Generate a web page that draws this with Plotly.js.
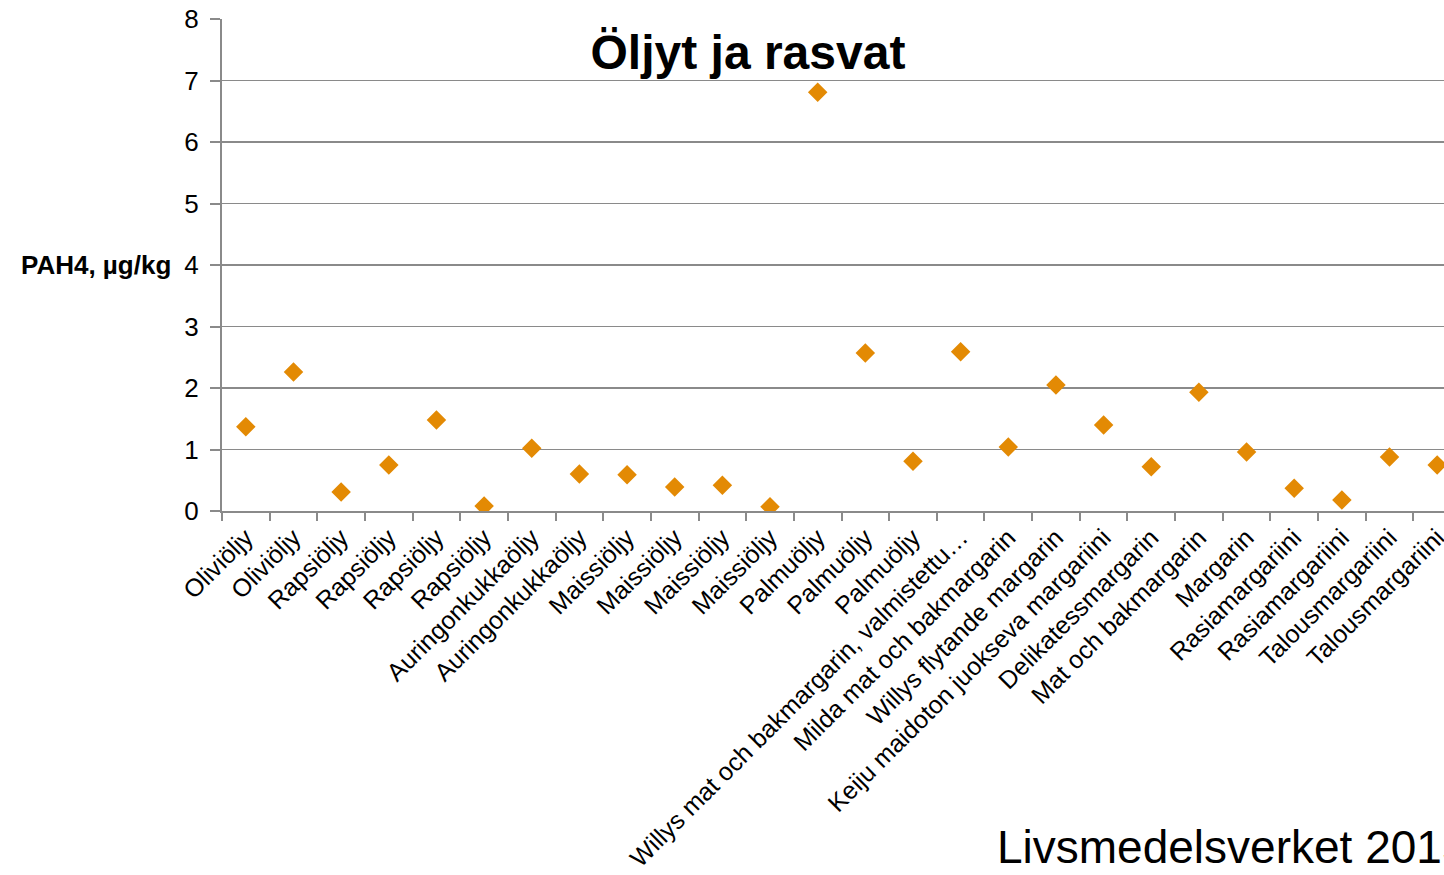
<!DOCTYPE html>
<html>
<head>
<meta charset="utf-8">
<script src="https://cdn.plot.ly/plotly-3.0.1.min.js"></script>
<style>
  html, body { margin: 0; padding: 0; overflow: hidden; background: white; }
</style>
</head>
<body>
<div id="plot"></div>
<script>
// products (x categories) and PAH4 content, µg/kg
const products = [
  "Oliviöljy", "Oliviöljy", "Rapsiöljy", "Rapsiöljy", "Rapsiöljy", "Rapsiöljy",
  "Auringonkukkaöljy", "Auringonkukkaöljy",
  "Maissiöljy", "Maissiöljy", "Maissiöljy", "Maissiöljy",
  "Palmuöljy", "Palmuöljy", "Palmuöljy",
  "Willys mat och bakmargarin, valmistettu…",
  "Milda mat och bakmargarin",
  "Willys flytande margarin",
  "Keiju maidoton juokseva margariini",
  "Delikatessmargarin",
  "Mat och bakmargarin",
  "Margarin",
  "Rasiamargariini", "Rasiamargariini",
  "Talousmargariini", "Talousmargariini"
];
const pah4 = [
  1.37, 2.26, 0.31, 0.75, 1.48, 0.08,
  1.02, 0.60,
  0.59, 0.39, 0.42, 0.07,
  6.81, 2.57, 0.81,
  2.59, 1.04, 2.05, 1.40, 0.72, 1.93, 0.96,
  0.37, 0.18, 0.88, 0.75
];
const yTicks = [0, 1, 2, 3, 4, 5, 6, 7, 8];

const grey = "#8a8a8a";
const font = "Liberation Sans, Arial, sans-serif";

// duplicate names, so index the categories and put the names on as tick text
const keys = products.map((p, i) => String(i));

const trace = {
  type: "scatter",
  mode: "markers",
  x: keys,
  y: pah4,
  marker: { symbol: "diamond", size: 15, color: "#E38A04" },
  hoverinfo: "y"
};

const layout = {
  width: 1470,
  height: 875,
  margin: { l: 222, r: 9, t: 19, b: 364 },
  paper_bgcolor: "white",
  plot_bgcolor: "white",
  showlegend: false,
  font: { family: font, color: "#000" },
  title: {
    text: "<b>Öljyt ja rasvat</b>",
    font: { family: font, size: 48, color: "#000" },
    xref: "paper", x: 0.4245, xanchor: "center",
    yref: "container", y: 1 - 52 / 875, yanchor: "middle"
  },
  xaxis: {
    type: "category",
    range: [-0.5, products.length - 0.5],
    tickmode: "array",
    tickvals: keys,
    ticktext: products,
    tickangle: -45,
    tickson: "boundaries",
    ticks: "outside",
    ticklen: 8,
    tickwidth: 2,
    tickcolor: grey,
    showline: true,
    linecolor: grey,
    linewidth: 2,
    showgrid: false,
    zeroline: false,
    automargin: false,
    tickfont: { family: font, size: 25, color: "#000" }
  },
  yaxis: {
    range: [0, 8],
    tickmode: "array",
    tickvals: yTicks,
    ticks: "outside",
    ticklen: 10,
    tickwidth: 2,
    tickcolor: grey,
    ticklabelstandoff: 6,
    showline: true,
    linecolor: grey,
    linewidth: 2,
    showgrid: true,
    gridcolor: grey,
    gridwidth: 1.6,
    zeroline: false,
    automargin: false,
    tickfont: { family: font, size: 26, color: "#000" }
  },
  annotations: [
    {
      text: "<b>PAH4, µg/kg</b>",
      xref: "paper", x: (173 - 222) / 1239, xanchor: "right",
      yref: "y", y: 4, yanchor: "middle",
      showarrow: false,
      font: { family: font, size: 26, color: "#000" }
    },
    {
      text: "Livsmedelsverket 2015",
      xref: "paper", x: (995 - 222) / 1239, xanchor: "left",
      yref: "paper", y: (511 - 847) / 492, yanchor: "middle",
      showarrow: false,
      font: { family: font, size: 46, color: "#000" }
    }
  ]
};

Plotly.newPlot("plot", [trace], layout, { displayModeBar: false, staticPlot: true });
</script>
</body>
</html>
